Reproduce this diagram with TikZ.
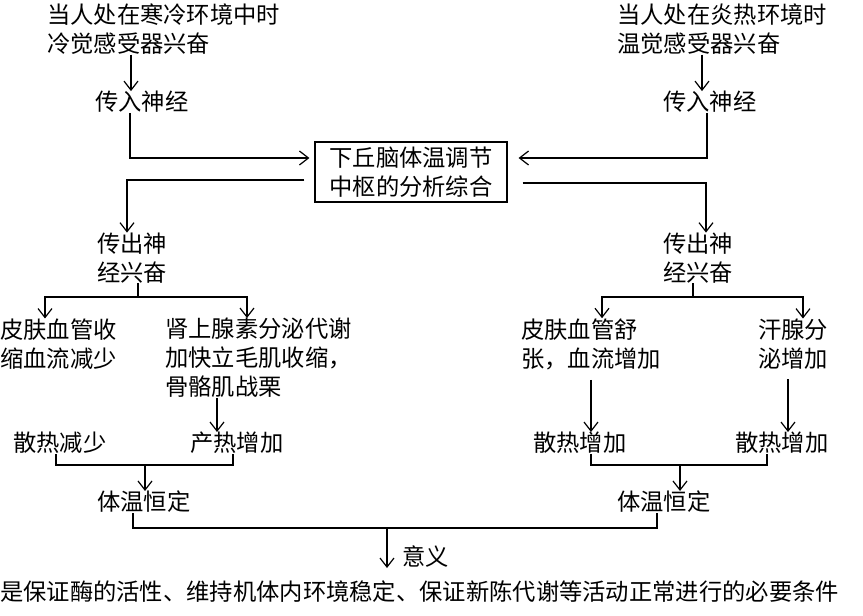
\documentclass[tikz,border=0pt]{standalone}
\usepackage{fontspec}
\setmainfont{Noto Sans CJK SC}
\usetikzlibrary{arrows.meta}
\begin{document}
\begin{tikzpicture}[x=1pt,y=-1pt,
  txt/.style={inner sep=0pt, anchor=west, align=left, font=\fontsize{23.3}{29}\selectfont},
  ln/.style={line width=1.2pt},
  arr/.style={line width=1.2pt,-{Straight Barb[length=9pt,width=14pt]}}]
\useasboundingbox (0,0) rectangle (863,616);
% nodes
\node[txt] (coldtop) at (47,29) {当人处在寒冷环境中时\\冷觉感受器兴奋};
\node[txt] (coldin) at (95,102) {传入神经};
\node[draw, line width=1.2pt, minimum width=192pt, minimum height=60pt, inner sep=0pt, align=center, font=\fontsize{23.3}{29}\selectfont] (center) at (411,172) {下丘脑体温调节\\中枢的分析综合};
\node[txt] (hottop) at (617,29) {当人处在炎热环境时\\温觉感受器兴奋};
\node[txt] (hotin) at (663,102) {传入神经};
\node[txt] (coldout) at (97,258) {传出神\\经兴奋};
\node[txt] (hotout) at (663,258) {传出神\\经兴奋};
\node[txt] (skinc) at (0,344) {皮肤血管收\\缩血流减少};
\node[txt] (adr) at (165,358) {肾上腺素分泌代谢\\加快立毛肌收缩，\\骨骼肌战栗};
\node[txt] (skinh) at (521,344) {皮肤血管舒\\张，血流增加};
\node[txt] (sweat) at (758,344) {汗腺分\\泌增加};
\node[txt] (sr1) at (13,443) {散热减少};
\node[txt] (pi) at (190,443) {产热增加};
\node[txt] (si1) at (533,443) {散热增加};
\node[txt] (si2) at (735,443) {散热增加};
\node[txt] (bt1) at (97,502) {体温恒定};
\node[txt] (bt2) at (617,502) {体温恒定};
\node[txt] (mean) at (402,557) {意义};
\node[txt] (concl) at (0,592) {是保证酶的活性、维持机体内环境稳定、保证新陈代谢等活动正常进行的必要条件};
% junction coordinates
\coordinate (cb) at (138,297);
\coordinate (hb) at (693,297);
\coordinate (cj) at (145,465);
\coordinate (hj) at (680,465);
\coordinate (mj) at (387,528);
% connectors
\draw[arr] (131,0 |- coldtop.south) -- (131,0 |- coldin.north);
\draw[arr] (702,0 |- hottop.south) -- (702,0 |- hotin.north);
\draw[arr] (130,0 |- coldin.south) |- ([xshift=-5pt,yshift=14pt]center.west);
\draw[arr] (707,0 |- hotin.south) |- ([xshift=11pt,yshift=14pt]center.east);
\draw[arr] ([xshift=-10pt,yshift=-8pt]center.west) -| (127,0 |- coldout.north);
\draw[arr] ([xshift=15pt,yshift=-11pt]center.east) -| (706,0 |- hotout.north);
\draw[ln] (cb |- coldout.south) -- (cb);
\draw[arr] (cb) -| (45,0 |- skinc.north);
\draw[arr] (cb) -| (247,0 |- adr.north);
\draw[ln] (hb |- hotout.south) -- (hb);
\draw[arr] (hb) -| (602,0 |- skinh.north);
\draw[arr] (hb) -| (803,0 |- sweat.north);
\draw[arr] (217,0 |- adr.south) -- (217,0 |- pi.north);
\draw[arr, shorten <=10pt] (591,0 |- skinh.south) -- (591,0 |- si1.north);
\draw[arr, shorten <=10pt] (788,0 |- sweat.south) -- (788,0 |- si2.north);
\draw[ln] (56,0 |- sr1.south) |- (cj) -| (233,0 |- pi.south);
\draw[arr] (cj) -- (cj |- bt1.north);
\draw[ln] (591,0 |- si1.south) |- (hj) -| (767,0 |- si2.south);
\draw[arr] (hj) -- (hj |- bt2.north);
\draw[ln] (133,0 |- bt1.south) |- (mj) -| (657,0 |- bt2.south);
\draw[arr] (mj) -- (mj |- mean.south);
\end{tikzpicture}
\end{document}
